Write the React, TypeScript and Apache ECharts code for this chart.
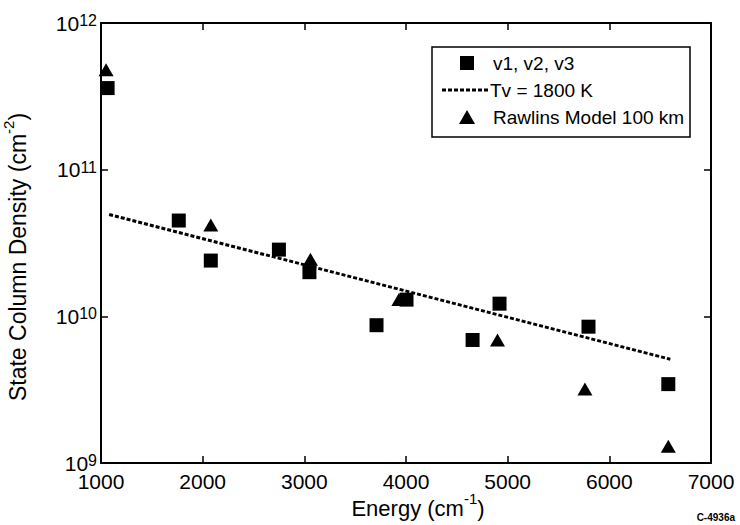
import React, { useEffect, useRef } from "react";
import * as echarts from "echarts";

const squareX = [1065, 1765, 2080, 2750, 3050, 3710, 4005, 4655, 4920, 5795, 6580];
const squareY = [3.6e11, 4.5e10, 2.4e10, 2.85e10, 2.0e10, 8.7e9, 1.3e10, 6.9e9, 1.22e10, 8.5e9, 3.45e9];
const triangleX = [1050, 2080, 3060, 3930, 4900, 5760, 6580];
const triangleY = [4.8e11, 4.2e10, 2.45e10, 1.3e10, 6.9e9, 3.2e9, 1.3e9];
const fitX = [1080, 6600];
const fitY = [4.95e10, 5.1e9];

const seriesNames = ["v1, v2, v3", "Tv = 1800 K", "Rawlins Model 100 km"];
const xTitle = "Energy (cm";
const xTitleSup = "-1";
const yTitle = "State Column Density (cm";
const yTitleSup = "-2";
const figureId = "C-4936a";

const FONT = "'Liberation Sans', Arial, Helvetica, sans-serif";

export default function App() {
  const ref = useRef<HTMLDivElement>(null);
  useEffect(() => {
    if (!ref.current) return;
    const chart = echarts.init(ref.current, undefined, { renderer: "svg" });
    const axisLine = { show: true, onZero: false, lineStyle: { color: "#000", width: 2 } };
    const tickIn = { show: true, inside: true, length: 7, lineStyle: { color: "#000", width: 1.5 } };
    const makeRich = (size: number, sup: number) => ({
      n: { fontSize: size, fontFamily: FONT, color: "#000", verticalAlign: "bottom" as const, lineHeight: 28 },
      s: { fontSize: sup, fontFamily: FONT, color: "#000", verticalAlign: "top" as const, lineHeight: 28 },
    });
    chart.setOption({
      animation: false,
      backgroundColor: "#fff",
      textStyle: { fontFamily: FONT },
      grid: { left: 101, right: 29, top: 23, bottom: 62, containLabel: false, outerBoundsMode: "none" },
      xAxis: [
        {
          type: "value",
          position: "bottom",
          min: 1000,
          max: 7000,
          interval: 1000,
          axisLine,
          axisTick: tickIn,
          splitLine: { show: false },
          axisLabel: { color: "#000", fontSize: 21, fontFamily: FONT, margin: 8, formatter: (v: number) => String(v) },
          name: `{n|${xTitle}}{s|${xTitleSup}}{n|)}`,
          nameLocation: "middle",
          nameGap: 28,
          nameMoveOverlap: false,
          nameTextStyle: { rich: makeRich(22, 15), padding: [0, 0, 0, 24] },
        },
        {
          type: "value",
          position: "top",
          min: 1000,
          max: 7000,
          interval: 1000,
          axisLine,
          axisTick: tickIn,
          splitLine: { show: false },
          axisLabel: { show: false },
        },
      ],
      yAxis: [
        {
          type: "log",
          logBase: 10,
          min: 1e9,
          max: 1e12,
          position: "left",
          axisLine,
          axisTick: tickIn,
          minorTick: { show: false },
          splitLine: { show: false },
          axisLabel: {
            margin: 4,
            formatter: (v: number) => `{b|10}{s|${Math.round(Math.log10(v))}}`,
            rich: {
              b: { fontSize: 21, fontFamily: FONT, color: "#000", verticalAlign: "bottom", lineHeight: 21 },
              s: { fontSize: 16, fontFamily: FONT, color: "#000", verticalAlign: "top", lineHeight: 16 },
            },
          },
          name: `{n|${yTitle}}{s|${yTitleSup}}{n|)}`,
          nameLocation: "middle",
          nameRotate: 90,
          nameGap: 72,
          nameMoveOverlap: false,
          nameTextStyle: { rich: makeRich(23, 15), padding: [0, 28, 0, 0] },
        },
        {
          type: "log",
          logBase: 10,
          min: 1e9,
          max: 1e12,
          position: "right",
          axisLine,
          axisTick: tickIn,
          splitLine: { show: false },
          axisLabel: { show: false },
        },
      ],
      series: [
        {
          name: seriesNames[0],
          type: "scatter",
          symbol: "rect",
          symbolSize: 14,
          itemStyle: { color: "#000", opacity: 1 },
          data: squareX.map((x, i) => [x, squareY[i]]),
          z: 3,
        },
        {
          name: seriesNames[1],
          type: "line",
          showSymbol: false,
          symbol: "none",
          lineStyle: { color: "#000", width: 3, type: [4, 2] },
          data: fitX.map((x, i) => [x, fitY[i]]),
          z: 2,
        },
        {
          name: seriesNames[2],
          type: "scatter",
          symbol: "triangle",
          symbolSize: [15, 13],
          itemStyle: { color: "#000", opacity: 1 },
          data: triangleX.map((x, i) => [x, triangleY[i]]),
          z: 3,
        },
      ],
      graphic: [
        {
          type: "group",
          z: 100,
          children: [
            { type: "rect", shape: { x: 432, y: 47, width: 258, height: 90 }, style: { fill: "#fff", stroke: "#000", lineWidth: 1.5 } },
            { type: "rect", shape: { x: 460, y: 56, width: 14, height: 14 }, style: { fill: "#000" } },
            { type: "text", x: 493, y: 63, style: { text: seriesNames[0], fontSize: 19, fontFamily: FONT, fill: "#000", verticalAlign: "middle" } },
            { type: "line", shape: { x1: 442, y1: 90, x2: 490, y2: 90 }, style: { stroke: "#000", lineWidth: 3, lineDash: [4, 2] } },
            { type: "text", x: 490, y: 90, style: { text: seriesNames[1], fontSize: 19, fontFamily: FONT, fill: "#000", verticalAlign: "middle" } },
            { type: "polygon", shape: { points: [[467, 110], [459, 124], [475, 124]] }, style: { fill: "#000" } },
            { type: "text", x: 493, y: 117, style: { text: seriesNames[2], fontSize: 19, fontFamily: FONT, fill: "#000", verticalAlign: "middle" } },
          ],
        },
        {
          type: "text",
          right: 5,
          top: 512,
          style: { text: figureId, fontSize: 10, fontWeight: "bold", fontFamily: FONT, fill: "#000" },
        },
      ],
    });
    return () => chart.dispose();
  }, []);
  return <div ref={ref} style={{ position: "fixed", left: 0, top: 0, width: 740, height: 525 }} />;
}
